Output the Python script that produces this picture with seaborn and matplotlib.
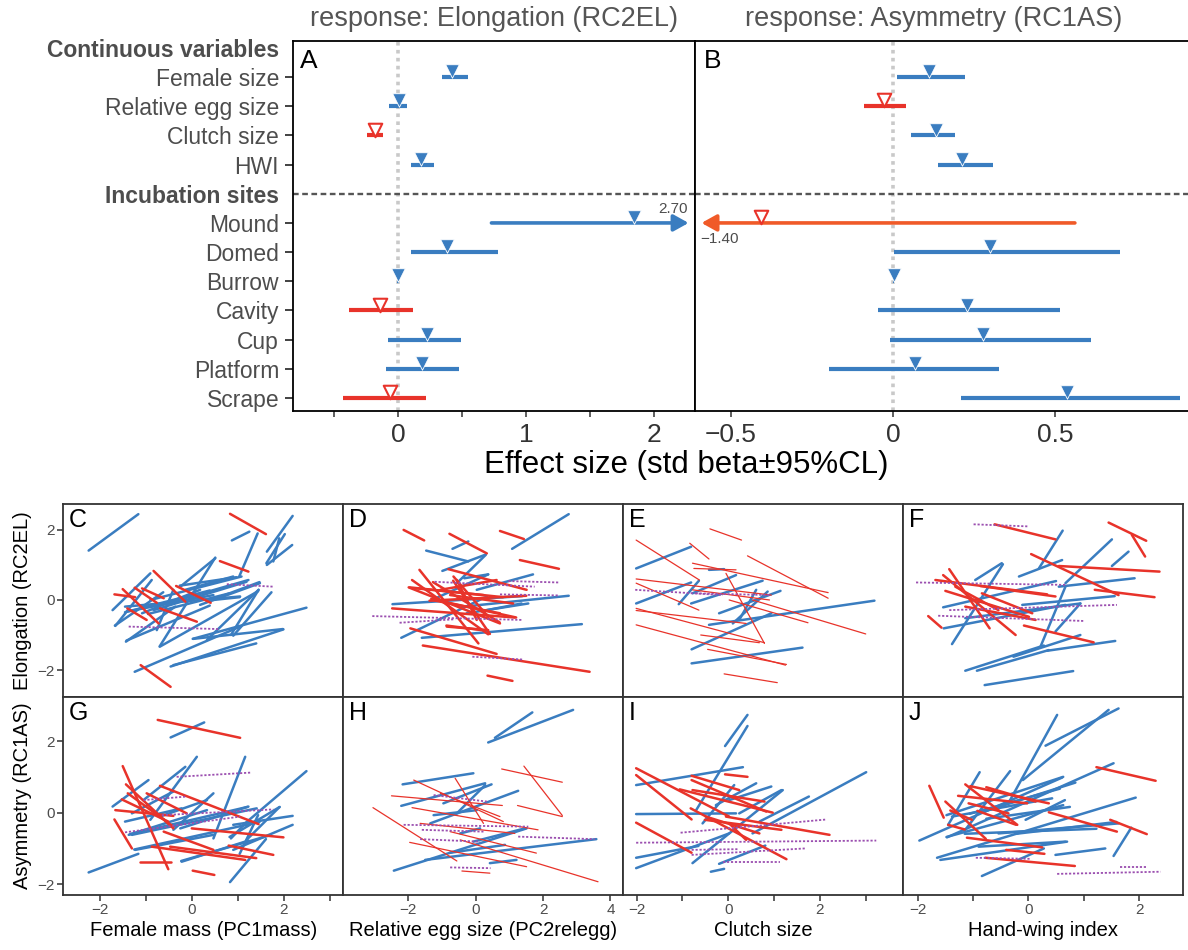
import numpy as np
import pandas as pd
import matplotlib
matplotlib.use("Agg")
import matplotlib.pyplot as plt
import seaborn as sns

sns.set_theme(style="ticks")
plt.rcParams["font.family"] = ["Liberation Sans", "DejaVu Sans"]
plt.rcParams["axes.unicode_minus"] = True

BLUE = "#3A7DC0"
RED = "#E8332A"
ORANGE = "#F05A28"
PURPLE = "#9B4FB0"
GRAY = "#4d4d4d"

# ---------------- top forest plots ----------------
row_labels = ["Continuous variables", "Female size", "Relative egg size", "Clutch size", "HWI",
              "Incubation sites", "Mound", "Domed", "Burrow", "Cavity", "Cup", "Platform", "Scrape"]
header_rows = [0, 5]
var_rows = [1, 2, 3, 4, 6, 7, 8, 9, 10, 11, 12]

elong_est = [0.42, 0.01, -0.18, 0.18, 1.84, 0.38, 0.00, -0.14, 0.23, 0.19, -0.06]
elong_lo = [0.34, -0.07, -0.24, 0.10, 0.73, 0.10, -0.01, -0.38, -0.08, -0.09, -0.43]
elong_hi = [0.55, 0.07, -0.12, 0.28, 2.70, 0.78, 0.01, 0.12, 0.49, 0.48, 0.22]
elong_pos = [True, True, False, True, True, True, True, False, True, True, False]

asym_est = [0.112, -0.028, 0.132, 0.214, -0.407, 0.298, 0.002, 0.228, 0.276, 0.069, 0.537]
asym_lo = [0.013, -0.090, 0.056, 0.140, -1.40, 0.003, 0.000, -0.045, -0.008, -0.197, 0.210]
asym_hi = [0.221, 0.039, 0.190, 0.308, 0.561, 0.700, 0.004, 0.514, 0.610, 0.326, 0.885]
asym_pos = [True, False, True, True, False, True, True, True, True, True, True]
asym_linecol = [BLUE, RED, BLUE, BLUE, ORANGE, BLUE, BLUE, BLUE, BLUE, BLUE, BLUE]

# ---------------- bottom panels: segments (x0, y0, x1, y1) ----------------
C_blue = [(-2.24, 1.41, -1.16, 2.45), (0.87, 1.70, 1.25, 1.95), (1.03, 0.67, 1.43, 1.90),
          (1.63, 1.38, 2.19, 2.40), (1.63, 1.00, 2.18, 1.57), (1.77, 1.10, 1.90, 1.76),
          (1.62, 1.05, 2.02, 1.88), (-0.70, -1.33, 0.51, 1.21), (0.02, -1.11, 2.49, -0.22),
          (-1.24, -2.05, 1.05, -0.76), (-0.46, -1.90, 1.99, -0.84), (-0.40, -1.86, 1.40, -1.24),
          (0.33, -1.14, 1.45, 0.29), (-1.43, -1.19, -0.36, -0.19), (-1.66, -0.74, -0.87, 0.57),
          (-1.72, -0.29, -0.90, 0.76), (-1.45, -0.19, 1.05, 0.10), (-0.90, 0.00, 1.08, 0.67),
          (-0.54, -0.10, 1.23, 0.57), (-0.25, 0.38, 0.51, 1.19), (-0.83, -0.29, 1.19, 0.52),
          (-1.08, -0.38, 0.18, 0.29), (-0.76, -0.86, -0.40, 0.29), (0.18, -0.14, 1.48, 0.48),
          (-1.41, -0.33, 0.47, 0.14), (-0.14, 0.29, 0.90, 0.67), (0.85, -1.00, 1.45, 0.29),
          (-1.67, -0.73, -0.62, 0.22), (-1.42, -1.16, 0.39, -0.16), (-0.69, -1.33, 1.44, 0.25),
          (0.03, -1.11, 1.98, -0.83), (0.90, -1.02, 1.73, 0.22), (-0.26, 0.41, 0.97, 0.65),
          (0.39, -0.02, 1.47, 0.51), (0.32, -0.02, 1.04, 0.08), (-1.45, -0.35, 0.39, 0.27),
          (-0.95, -0.40, 0.82, 0.19)]
C_red = [(0.83, 2.46, 1.61, 1.88), (0.61, 1.11, 1.23, 0.81), (-0.83, 0.83, -0.14, -0.05),
         (-0.34, 0.40, 0.41, -0.08), (-1.50, 0.31, -0.72, -0.67), (-1.68, 0.16, -1.23, 0.08),
         (-1.24, 0.35, -0.76, -0.08), (-1.08, 0.33, -0.61, 0.05), (-1.40, -0.24, -0.98, -0.57),
         (-0.69, -0.24, 0.11, -0.62), (-1.11, -1.86, -0.46, -2.48)]
C_purple = [(-1.37, -0.76, 0.58, -0.83), (0.76, 0.45, 1.77, 0.38)]

G_blue = [(-2.24, -1.67, -1.16, -1.15), (-0.46, 2.10, 0.27, 2.52), (0.83, -1.94, 1.61, -0.74),
          (0.85, -0.72, 1.16, -0.30), (1.19, -0.76, 1.90, 0.15), (0.90, -0.34, 2.19, -0.09),
          (0.90, -1.04, 2.19, -0.34), (1.12, -0.34, 2.49, 1.16), (0.47, -0.72, 1.16, 1.56),
          (-0.22, -1.37, 1.23, -0.78), (-1.23, -1.04, 0.47, -0.62), (-1.37, -0.62, 0.33, 0.07),
          (-1.72, 0.17, -0.94, 0.91), (-1.30, -0.02, -0.40, 0.59), (-1.05, 0.35, -0.14, 1.28),
          (-0.90, -0.20, 0.11, 1.56), (-0.40, -0.48, 0.47, 0.54), (-1.30, -0.62, 1.41, 0.12),
          (-0.69, -0.11, 0.33, 0.35), (-1.45, -0.25, -0.22, 0.12), (-0.25, -0.44, 1.23, 0.17),
          (-1.34, -0.60, 1.21, 0.16), (-1.25, -1.03, 1.47, -0.26), (-0.23, -1.35, 1.70, -0.63),
          (0.82, -0.68, 1.91, 0.16), (1.04, -1.15, 1.44, -0.07)]
G_red = [(-0.74, 2.59, 1.05, 2.09), (-1.50, 1.30, -0.51, -1.58), (-1.43, 0.79, -0.40, -0.44),
         (-0.69, 0.75, 1.45, -0.32), (-1.66, 0.07, -0.40, -0.09), (-1.52, 0.37, -0.51, -0.25),
         (-1.39, 0.54, -0.40, -0.39), (-1.68, -0.19, -1.30, -1.00), (-0.87, -0.95, 1.16, -1.32),
         (-0.47, -0.95, 1.40, -1.27), (0.00, -0.44, 1.99, -0.69), (0.80, -0.92, 1.77, -1.18),
         (-1.12, -1.39, -0.46, -1.39), (0.02, -1.62, 0.49, -1.74), (-0.61, -0.53, 0.47, -1.04),
         (-0.98, 0.54, -0.11, -0.02)]
G_purple = [(-1.45, -0.55, 1.05, -0.11), (-0.33, 1.00, 1.30, 1.12), (-0.65, -0.07, 1.77, 0.09),
            (-1.05, 0.35, -0.11, 0.45)]

D_blue = [(1.08, 1.46, 2.76, 2.45), (-0.69, 1.46, -0.22, 1.67), (-1.47, 1.41, -0.22, 1.10),
          (-0.99, 0.83, 0.28, 1.29), (-0.56, 0.48, 0.30, 1.29), (-0.34, 0.62, 0.37, 0.73),
          (-2.21, -1.08, 0.33, 0.10), (-1.60, -1.08, 3.15, -0.69), (-2.47, -0.12, 1.38, 0.11),
          (-0.36, -0.19, 2.76, 0.12), (0.03, 0.29, 1.70, 0.73), (-0.27, -0.38, 1.56, -0.10),
          (-1.30, 0.00, 0.37, 0.73), (0.33, -0.29, 1.36, -0.10)]
D_red = [(-2.14, 2.00, -1.53, 1.70), (-0.78, 1.89, 0.33, 1.33), (0.72, 1.97, 1.43, 1.74),
         (1.31, 1.14, 2.47, 0.89), (-0.81, 0.88, 1.51, 0.29), (-1.67, 0.86, 0.08, -1.24),
         (-1.89, 0.57, 0.37, -0.98), (-1.99, 0.36, 0.72, -0.67), (-1.94, -0.81, 0.62, -1.54),
         (-1.57, -1.30, 3.38, -2.05), (0.35, -2.16, 1.09, -2.31), (-2.48, -0.24, 1.16, -0.50),
         (-1.30, 0.00, 0.72, -0.38), (-0.86, -0.76, 0.37, -0.86), (-0.66, 0.67, 0.37, -0.48),
         (-1.05, 0.29, 0.62, 0.57), (-0.56, 0.57, 0.03, -0.57), (-1.74, 0.33, 0.23, 0.14),
         (-0.76, 0.14, 1.11, -0.10), (-1.96, 0.36, 0.81, 0.08), (-1.37, -0.02, 1.50, 0.12),
         (-1.27, 0.51, 0.71, -0.64), (-0.87, -0.73, 0.17, -0.86), (-0.67, 0.55, 0.42, -0.97),
         (-1.32, 0.03, 1.20, -0.50)]
D_purple = [(-3.07, -0.46, 1.39, -0.57), (-2.26, -0.65, -0.61, -0.55), (-1.22, 0.52, 1.75, 0.38),
            (0.97, 0.54, 2.45, 0.50), (0.72, 0.16, 2.44, 0.13), (-0.10, -1.62, 1.39, -1.70)]

H_blue = [(0.37, 1.96, 2.89, 2.87), (0.57, 2.09, 1.68, 2.80), (-2.17, 0.79, -0.07, 1.10),
          (-2.21, 0.19, 0.28, 0.82), (-1.35, -0.30, 1.26, 0.61), (-0.96, 0.26, 0.47, 0.79),
          (-2.43, -1.62, 1.51, -0.44), (-1.50, -1.32, 3.58, -0.74), (-0.46, -0.58, 0.13, -0.44),
          (-0.76, -1.12, 0.87, -0.90), (0.42, -1.41, 1.21, -1.32), (-1.25, -0.07, 0.03, 0.07),
          (-0.56, -0.02, 0.28, 0.77), (-0.07, -0.81, 1.46, -0.44)]
H_red = [(-3.05, 0.14, -0.56, -1.35), (-2.50, 0.47, 0.79, 0.20), (0.77, 1.22, 2.57, 0.85),
         (1.43, 1.30, 2.57, -0.08), (1.24, 0.20, 2.57, -0.11), (-1.96, -0.83, 1.51, -1.51),
         (-1.89, 0.14, 1.85, -0.48), (-1.84, 0.91, 0.82, -0.25), (-0.61, 0.96, 0.23, -0.30),
         (-0.41, -1.63, 0.42, -1.69), (-0.46, -0.76, 3.63, -1.93), (-1.05, 0.54, 0.72, -0.11),
         (-1.65, -0.30, 1.16, -0.58), (-0.76, -0.53, 1.80, -1.13)]
H_purple = [(-2.14, -0.34, 1.56, -0.39), (-1.60, -0.48, 0.23, -0.53), (-1.65, -0.74, 0.13, -0.81),
            (1.26, -0.67, 3.53, -0.74), (-0.76, -1.53, 0.44, -1.55), (-1.25, 0.49, 0.33, 0.31)]

E_blue = [(-2.01, 0.90, -0.81, 1.52), (-2.01, -0.10, -0.81, 0.50), (-1.08, -0.12, -0.64, 0.55),
          (-0.81, -0.10, 0.75, 0.55), (-0.78, 0.19, 0.17, 0.71), (-0.80, -1.41, 0.94, -0.38),
          (-0.80, -1.81, 1.62, -1.36), (-0.42, -0.71, 3.19, -0.02), (-0.20, -0.38, 1.14, 0.26),
          (0.10, -0.67, 0.86, 0.24), (0.24, -0.57, 0.61, 0.29), (-0.42, 0.86, -0.09, 0.88)]
E_red = [(-0.40, 2.03, 0.29, 1.71), (-2.01, 1.71, -0.63, 0.57), (-0.84, 1.62, -0.42, 1.17),
         (0.42, 1.26, 2.18, 0.05), (-0.78, 1.05, 2.18, 0.21), (-0.75, 0.90, 0.17, 0.86),
         (-2.01, 0.60, 0.94, 0.14), (-2.01, -0.24, 0.79, -1.22), (-2.01, -0.71, 1.25, -1.86),
         (-2.01, -0.30, 0.39, -0.67), (-0.45, -1.41, 1.27, -1.84), (-0.09, -2.11, 1.07, -2.36),
         (-0.60, -1.00, 0.68, -1.22), (0.53, 0.00, 3.00, -0.97), (-0.05, 0.76, 0.79, -1.24),
         (-2.01, 0.48, -0.64, -0.29), (0.02, 0.00, 1.74, -0.65), (-0.78, 0.29, 0.90, 0.00)]
E_purple = [(-2.03, 0.29, -0.12, 0.14), (-0.71, 0.19, 0.90, 0.14)]

I_blue = [(-0.07, 1.86, 0.42, 2.73), (-0.70, 0.07, 0.42, 2.42), (-2.01, 0.77, 0.32, 1.27),
          (-2.01, -0.04, 0.17, -0.02), (-2.01, -1.26, -0.65, -0.93), (-2.01, -1.55, 0.02, -0.58),
          (-0.78, -1.41, 1.19, 0.63), (-0.20, -1.43, 0.81, -0.92), (-0.38, -1.65, -0.09, -1.57),
          (0.53, -0.58, 3.01, 1.13), (0.68, -0.25, 1.76, 0.45), (-0.27, 0.21, 0.61, 0.82),
          (0.02, 0.35, 0.94, 0.73), (0.24, -0.02, 1.16, 0.63), (-0.56, -0.30, 0.13, 0.77)]
I_red = [(-2.01, 1.24, 0.02, -0.11), (-2.01, 1.05, -0.80, -0.19), (-2.01, -0.28, -0.80, -1.12),
         (-0.80, 1.03, 0.24, 0.63), (-0.80, 0.91, 0.83, 0.03), (-0.07, 1.07, 0.42, 1.00),
         (-1.06, 0.65, 0.97, 0.00), (-0.82, 0.12, 1.27, -1.30), (-0.51, -0.20, 1.16, -0.48),
         (-0.05, -0.11, 2.21, -0.62), (-0.78, 0.63, 0.79, 0.31), (-0.49, -0.11, 0.68, -0.58),
         (0.02, -0.30, 0.39, -0.76)]
I_purple = [(-2.01, -0.84, 3.23, -0.78), (-1.04, -0.56, 2.15, -0.19), (-0.80, -1.18, 1.67, -1.00),
            (-0.12, -1.39, 1.12, -1.39), (-0.80, -1.04, 0.21, -1.02)]

F_blue = [(-1.14, -2.02, 0.28, -1.30), (-0.93, -2.02, 0.37, -1.43), (-0.79, -2.43, 0.81, -2.03),
          (-0.27, -1.62, 0.94, -1.00), (0.22, -1.33, 0.67, 0.38), (0.34, -1.45, 1.57, -1.17),
          (0.19, 0.90, 0.62, 1.98), (-0.17, 0.67, 0.61, 1.14), (0.67, 0.48, 1.51, 1.73),
          (1.51, 0.97, 1.81, 1.38), (-1.38, -1.26, -0.46, 1.02), (-1.54, -0.21, 0.50, 0.54),
          (-1.53, -0.81, 0.67, -0.14), (0.55, 0.38, 1.92, 0.62), (-0.11, -0.14, 1.56, 0.11),
          (-1.14, -0.52, 0.94, -0.10), (-0.96, 0.57, -0.48, 1.05), (0.49, -0.90, 0.94, -0.10)]
F_red = [(-0.61, 2.16, 0.49, 1.73), (1.45, 2.21, 2.13, 1.69), (1.87, 1.86, 2.11, 1.24),
         (0.05, 1.31, 1.63, 0.14), (0.55, 0.97, 2.37, 0.81), (1.20, 0.29, 2.28, 0.08),
         (-1.68, 0.57, 0.34, 0.16), (-1.43, 0.88, -0.70, -0.81), (-1.54, 0.71, -0.23, -1.00),
         (-1.50, 0.26, 0.01, -0.48), (-0.08, -0.73, 1.18, -1.21), (-1.81, -0.46, -1.57, -0.79),
         (-0.87, 0.40, 0.49, 0.10), (-1.14, -0.19, 0.13, -0.57), (-0.84, 0.19, 0.07, -0.38),
         (-1.32, 0.38, -0.54, -0.29)]
F_purple = [(-2.03, 0.50, 0.70, 0.43), (-0.99, 2.16, 0.01, 2.10), (-1.43, -0.29, 1.60, -0.14),
            (-1.63, -0.45, 1.01, -0.60)]

J_blue = [(-0.10, 0.91, 1.45, 2.87), (0.31, 1.87, 1.63, 2.91), (-0.33, 0.35, 0.52, 2.73),
          (-1.97, -0.78, 0.61, 0.98), (-1.65, -1.26, 1.94, 0.42), (-1.59, -1.32, 0.70, -0.81),
          (-0.84, -1.77, 0.28, -1.00), (1.54, -1.21, 1.86, -0.42), (0.49, -1.18, 1.39, -1.00),
          (-1.47, -0.69, 1.54, 1.38), (-1.45, -0.34, -0.88, 1.13), (-1.14, -0.48, -0.33, 1.16),
          (-0.90, -0.02, 0.85, 0.84), (-0.54, -0.58, 1.63, -0.30), (-1.38, -0.11, 0.43, 0.40),
          (-0.05, -0.20, 0.66, 0.35), (-0.90, -0.95, 0.67, -0.81), (-1.48, -0.68, 0.63, 0.21),
          (-1.15, -0.59, 1.23, -0.45), (-0.22, -0.59, 1.59, -0.26), (-1.06, -0.03, 0.57, 0.67),
          (-1.48, -0.07, 0.63, 1.00), (-0.76, -0.17, 0.75, 0.16)]
J_red = [(-1.79, 0.75, -1.53, -0.14), (1.23, 1.27, 2.30, 0.89), (-1.14, 0.79, -0.20, -0.34),
         (-1.05, 0.74, 0.37, 0.26), (-0.76, 0.71, 0.13, 0.31), (-1.27, 0.47, -0.02, 0.26),
         (-1.50, 0.31, -0.77, -0.73), (-1.41, 0.06, -1.02, -0.20), (-0.92, 0.05, -0.22, -0.34),
         (-1.45, -0.34, -1.15, -0.47), (-1.11, -0.70, 0.25, -0.97), (-0.40, -1.04, 0.29, -1.15),
         (-0.78, -1.26, 0.84, -1.49), (0.37, 0.01, 1.60, -0.53), (1.48, -0.20, 2.14, -0.60),
         (-1.08, 0.26, -0.36, -0.02)]
J_purple = [(-0.95, -1.26, 0.04, -1.29), (0.52, -1.71, 2.39, -1.65), (1.66, -1.53, 2.14, -1.53)]

x_labels = ["Female mass (PC1mass)", "Relative egg size (PC2relegg)", "Clutch size", "Hand-wing index"]
y_labels = ["Elongation (RC2EL)", "Asymmetry (RC1AS)"]

# ---------------- figure ----------------
W, H = 1188, 950
fig = plt.figure(figsize=(W / 100, H / 100), dpi=100)


def rect(l, t, r, b):
    return [l / W, 1 - b / H, (r - l) / W, (b - t) / H]


ARROW = "-|>,head_length=0.9,head_width=0.5"


def forest(ax, est, lo, hi, pos, linecols, xlim, letter):
    ax.set_xlim(*xlim)
    ax.set_ylim(12.45, -0.24)
    ax.axvline(0, color="#c9c9c9", lw=2.6, ls=(0, (1, 1.2)), zorder=1)
    ax.axhline(5, color="#555555", lw=1.7, ls=(0, (2.4, 1.5)), zorder=1)
    for r, l, h, c in zip(var_rows, lo, hi, linecols):
        if h > xlim[1]:
            ax.annotate("", xy=(xlim[1] - 0.05, r), xytext=(l, r),
                        arrowprops=dict(arrowstyle=ARROW, color=c, lw=2.6, shrinkA=0,
                                        shrinkB=0, mutation_scale=10), zorder=2)
        elif l < xlim[0]:
            ax.annotate("", xy=(xlim[0] + 0.02, r), xytext=(h, r),
                        arrowprops=dict(arrowstyle=ARROW, color=c, lw=2.6, shrinkA=0,
                                        shrinkB=0, mutation_scale=10), zorder=2)
        else:
            ax.hlines(r, l, h, color=c, lw=3.0, zorder=2)
    df = pd.DataFrame({"est": est, "row": np.array(var_rows) - 0.2, "pos": pos})
    sns.scatterplot(data=df[df["pos"]], x="est", y="row", marker="v", s=95, color=BLUE,
                    edgecolor="white", linewidth=0.6, ax=ax, zorder=4, legend=False)
    sns.scatterplot(data=df[~df["pos"]], x="est", y="row", marker="v", s=95, color="white",
                    edgecolor=RED, linewidth=1.5, ax=ax, zorder=4, legend=False)
    ax.set_xlabel("")
    ax.set_ylabel("")
    ax.text(0.018, 0.978, letter, transform=ax.transAxes, ha="left", va="top",
            fontsize=19, color="black")
    for sp in ax.spines.values():
        sp.set_color("black")
        sp.set_linewidth(1.3)
    ax.tick_params(axis="x", length=4, width=1.1, color="#333333", labelsize=19,
                   labelcolor="#333333", pad=5, which="both")


axA = fig.add_axes(rect(293, 41, 695, 411))
axB = fig.add_axes(rect(695, 41, 1188, 411))

forest(axA, elong_est, elong_lo, elong_hi, elong_pos,
       [BLUE if p else RED for p in elong_pos], (-0.82, 2.32), "A")
forest(axB, asym_est, asym_lo, asym_hi, asym_pos, asym_linecol, (-0.611, 0.91), "B")

axA.set_xticks([0, 1, 2])
axA.set_xticklabels(["0", "1", "2"])
axA.set_xticks([-0.5, 0.5, 1.5], minor=True)
axB.set_xticks([-0.5, 0, 0.5])
axB.set_xticklabels(["\u22120.5", "0", "0.5"])
axB.spines["right"].set_visible(False)

axA.set_yticks(range(len(row_labels)))
axA.set_yticklabels(row_labels)
axA.tick_params(axis="y", length=6, width=1.3, color="#333333", labelsize=16.5,
                labelcolor=GRAY, pad=4)
for i in header_rows:
    axA.yaxis.get_major_ticks()[i].tick1line.set_visible(False)
    axA.get_yticklabels()[i].set_fontweight("bold")
axB.set_yticks([])

axA.text(2.15, 6 - 0.47, "2.70", ha="center", va="center", fontsize=11, color=GRAY)
axB.text(-0.534, 6 + 0.55, "\u22121.40", ha="center", va="center", fontsize=11, color=GRAY)

fig.text(494 / W, 1 - 19 / H, "response: Elongation (RC2EL)", ha="center", va="center",
         fontsize=19.5, color="#555555")
fig.text(934 / W, 1 - 19 / H, "response: Asymmetry (RC1AS)", ha="center", va="center",
         fontsize=19.5, color="#555555")
fig.text(686 / W, 1 - 465 / H, "Effect size (std beta\u00b195%CL)", ha="center", va="center",
         fontsize=22.5, color="black")

# ---------------- bottom grid ----------------
col_edges = [63.3, 343.3, 623.3, 903.3, 1183.3]
row_edges = [504, 697, 895]
xlims = [(-2.79, 3.29), (-3.93, 4.38), (-2.29, 3.82), (-2.26, 2.80)]
ylims = [(-2.77, 2.74), (-2.30, 3.23)]
x_major = [[-2, 0, 2], [-2, 0, 2, 4], [-2, 0, 2], [-2, 0, 2]]
x_minor = [[-1, 1, 3], [], [-1, 1, 3], [-1, 1]]

panel_data = [
    [("C", C_blue, C_red, C_purple, 1.8), ("D", D_blue, D_red, D_purple, 1.8),
     ("E", E_blue, E_red, E_purple, 0.9), ("F", F_blue, F_red, F_purple, 1.8)],
    [("G", G_blue, G_red, G_purple, 1.8), ("H", H_blue, H_red, H_purple, 0.9),
     ("I", I_blue, I_red, I_purple, 1.8), ("J", J_blue, J_red, J_purple, 1.8)],
]


def draw_segs(ax, segs, color, lw, ls="-"):
    if not segs:
        return
    recs = []
    for k, (x0, y0, x1, y1) in enumerate(segs):
        recs.append((k, x0, y0))
        recs.append((k, x1, y1))
    df = pd.DataFrame(recs, columns=["seg", "x", "y"])
    sns.lineplot(data=df, x="x", y="y", units="seg", estimator=None, color=color,
                 lw=lw, ls=ls, ax=ax, legend=False, sort=True)


for ri in range(2):
    for ci in range(4):
        letter, blue, red, purple, red_lw = panel_data[ri][ci]
        ax = fig.add_axes(rect(col_edges[ci], row_edges[ri], col_edges[ci + 1], row_edges[ri + 1]))
        draw_segs(ax, blue, BLUE, 1.8)
        draw_segs(ax, red, RED, red_lw)
        draw_segs(ax, purple, PURPLE, 1.3, (0, (1.2, 1.0)))
        ax.set_xlim(*xlims[ci])
        ax.set_ylim(*ylims[ri])
        ax.set_xticks(x_major[ci])
        ax.set_xticks(x_minor[ci], minor=True)
        ax.set_yticks([-2, 0, 2])
        ax.set_xlabel("")
        ax.set_ylabel("")
        for sp in ax.spines.values():
            sp.set_color("#333333")
            sp.set_linewidth(1.3)
        ax.tick_params(which="both", length=4, width=1.1, color="#333333",
                       labelsize=11, labelcolor=GRAY, pad=2)
        if ri == 0:
            ax.tick_params(axis="x", which="both", bottom=False, labelbottom=False)
        else:
            ax.set_xlabel(x_labels[ci], fontsize=14.5, color="black", labelpad=3)
        if ci == 0:
            ax.set_ylabel(y_labels[ri], fontsize=14.5, color="black", labelpad=4)
        else:
            ax.tick_params(axis="y", which="both", left=False, labelleft=False)
        ax.text(0.02, 0.98, letter, transform=ax.transAxes, ha="left", va="top",
                fontsize=18, color="black")

fig.savefig("out.png", dpi=100)
